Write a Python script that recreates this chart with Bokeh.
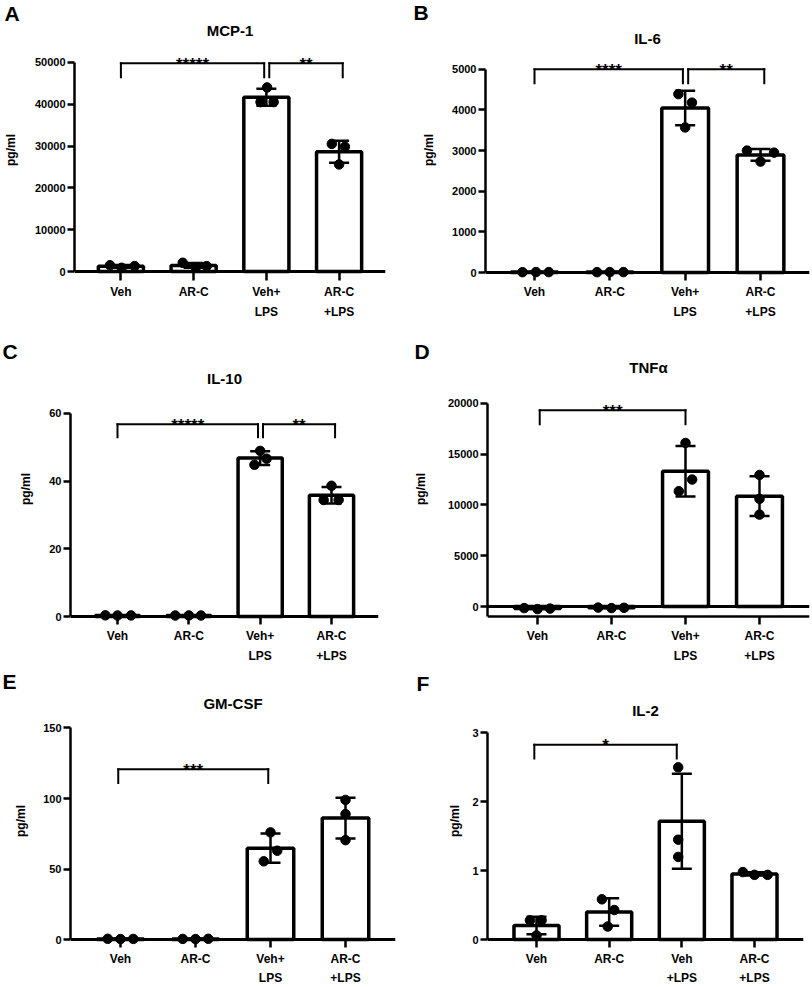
import numpy as np
from bokeh.plotting import figure
from bokeh.models import (ColumnDataSource, Range1d, FixedTicker,
                          Span, Label, Whisker, TeeHead, NumeralTickFormatter,
                          LinearAxis, Title)
from bokeh.layouts import column, row
from bokeh.embed import file_html
from bokeh.resources import INLINE
from bokeh.core.properties import value

FONT = "Liberation Sans"

# ---------------- data ----------------
groups = ["Veh", "AR-C", "Veh+LPS", "AR-C+LPS"]
# tick labels (two lines)
labels_1_line1 = ["Veh", "AR-C", "Veh+", "AR-C"]
labels_1_line2 = ["", "", "LPS", "+LPS"]
labels_2_line1 = ["Veh", "AR-C", "Veh", "AR-C"]
labels_2_line2 = ["", "", "+LPS", "+LPS"]

# three replicate values per group (pg/ml)
mcp1_vals = [[1500, 900, 1300], [2100, 1000, 1300], [44000, 40500, 40500], [30500, 29800, 25600]]
il6_vals = [[8, 12, 10], [9, 11, 10], [4390, 4180, 3570], [3000, 2950, 2730]]
il10_vals = [[0.35, 0.30, 0.32], [0.30, 0.32, 0.30], [48.9, 46.6, 44.8], [38.6, 34.4, 34.4]]
tnfa_vals = [[-150, -250, -200], [-100, -150, -120], [16100, 12500, 11350], [12950, 10600, 9050]]
gmcsf_vals = [[0.6, 0.4, 0.5], [0.5, 0.4, 0.6], [76, 63, 55.5], [99, 89, 70.5]]
il2_vals = [[0.28, 0.28, 0.06], [0.585, 0.43, 0.19], [2.5, 1.45, 1.2], [0.98, 0.94, 0.94]]

# y-axis ticks
mcp1_ticks = [0, 10000, 20000, 30000, 40000, 50000]
il6_ticks = [0, 1000, 2000, 3000, 4000, 5000]
il10_ticks = [0, 20, 40, 60]
tnfa_ticks = [0, 5000, 10000, 15000, 20000]
gmcsf_ticks = [0, 50, 100, 150]
il2_ticks = [0, 1, 2, 3]

# significance brackets: (from group, to group, label)
mcp1_sig = [(0, 2, "*****"), (2, 3, "**")]
il6_sig = [(0, 2, "****"), (2, 3, "**")]
il10_sig = [(0, 2, "*****"), (2, 3, "**")]
tnfa_sig = [(0, 2, "***")]
gmcsf_sig = [(0, 2, "***")]
il2_sig = [(0, 2, "*")]

# ---------------- layout / style (page pixels) ----------------
COL_W = 406
ROWS = [
    dict(off=0, H=321, ftop=19, fbot=281, s1=4, s2=3),
    dict(off=321, H=344, ftop=353, fbot=625, s1=4, s2=3),
    dict(off=665, H=322, ftop=692, fbot=949, s1=4, s2=2),
]
PANELS = {
    "A": dict(col=0, row=0, left=70, right=385, c0=117, top=62, zero=272,
              letter=(0, 24), title_c=30, brk=(63, 77), lab_c=10,
              brk_off=[(0, -0.03), (0.04, 0.05)],
              jit=[[-0.15, 0.01, 0.19], [-0.15, 0.03, 0.18], [0.01, -0.08, 0.10], [-0.10, 0.08, 0.0]]),
    "B": dict(col=1, row=0, left=485, right=809, c0=534, top=69, zero=273,
              letter=(413, 23), title_c=38, brk=(69, 83), lab_c=433,
              brk_off=[(0, -0.03), (0.04, 0.05)],
              jit=[[-0.16, 0.02, 0.19], [-0.17, 0.0, 0.18], [-0.09, 0.09, 0.0], [-0.18, 0.18, 0.0]]),
    "C": dict(col=0, row=1, left=70, right=378, c0=117, top=413, zero=617,
              letter=(2, 362), title_c=378, brk=(424, 437), lab_c=30,
              brk_off=[(0, -0.03), (0.04, 0.05)],
              jit=[[-0.17, 0.0, 0.19], [-0.19, 0.0, 0.17], [0.0, 0.09, -0.08], [0.0, -0.11, 0.10]]),
    "D": dict(col=1, row=1, left=487, right=809, c0=537, top=403, zero=607, axis=617,
              letter=(414, 362), title_c=367, brk=(410, 424), lab_c=424,
              brk_off=[(0.03, 0.0)],
              jit=[[-0.18, 0.0, 0.17], [-0.18, 0.0, 0.17], [0.0, 0.09, -0.09], [0.0, 0.0, 0.0]]),
    "E": dict(col=0, row=2, left=70, right=395, c0=120, top=726, zero=941,
              letter=(2, 690), title_c=702, brk=(768, 782), lab_c=25,
              brk_off=[(-0.03, -0.03)],
              jit=[[-0.17, 0.0, 0.17], [-0.17, 0.0, 0.17], [0.0, 0.09, -0.09], [0.0, 0.0, 0.0]]),
    "F": dict(col=1, row=2, left=487, right=803, c0=536, top=731, zero=941,
              letter=(416, 692), title_c=709, brk=(743, 757), lab_c=459,
              brk_off=[(-0.03, -0.07)],
              jit=[[-0.09, 0.07, 0.0], [-0.10, 0.07, -0.02], [-0.05, -0.05, -0.05], [-0.16, 0.0, 0.18]]),
}
TICK_FS = 11
XLAB_FS = 12


def style_text_axis(ax, size):
    ax.major_label_text_font = FONT
    ax.major_label_text_font_size = size
    ax.major_label_text_font_style = "bold"
    ax.major_label_text_color = "black"


def make_panel(letter, title, cats, line1, line2, vals, ticks, sig, P):
    R = ROWS[P["row"]]
    W, H = COL_W, R["H"]
    xo, yo = P["col"] * COL_W, R["off"]
    left, right, c0 = P["left"] - xo, P["right"] - xo, P["c0"] - xo
    ftop, fbot = R["ftop"] - yo, R["fbot"] - yo
    top, zero = P["top"] - yo, P["zero"] - yo
    n = len(cats)
    step = (right - left - 2 * (c0 - left)) / 3.0
    pad = (c0 - left) / step - 0.5
    ymax = ticks[-1]
    dpp = ymax / (zero - top)
    y0 = -(fbot - zero) * dpp
    y1 = ymax + (top - ftop) * dpp
    has_axis = "axis" in P
    axis_val = -(P["axis"] - yo - zero) * dpp if has_axis else 0.0
    centers = [i + 0.5 for i in range(n)]

    p = figure(width=W, height=H, title=None, x_axis_location=None,
               x_range=Range1d(-pad, n + pad),
               y_range=Range1d(y0, y1), output_backend="svg", toolbar_location=None,
               min_border_left=left, min_border_right=W - right,
               min_border_top=ftop, min_border_bottom=H - fbot)
    p.outline_line_color = None
    p.xgrid.visible = False
    p.ygrid.visible = False
    p.background_fill_color = "white"
    p.border_fill_color = "white"

    # zero line (and lower x axis line for panels with a negative range)
    p.add_layout(Span(location=0, dimension="width", line_color="black",
                      line_width=3, level="underlay"))
    if has_axis:
        p.add_layout(Span(location=axis_val, dimension="width", line_color="black",
                          line_width=2.5, level="underlay"))

    means = [float(np.mean(v)) for v in vals]
    sds = [float(np.std(v, ddof=1)) for v in vals]
    src = ColumnDataSource(dict(x=centers, group=cats, top=means,
                                upper=[m + s for m, s in zip(means, sds)],
                                lower=[m - s for m, s in zip(means, sds)]))
    p.vbar(x="x", top="top", bottom=0, width=0.62, source=src,
           fill_color="white", line_color="black", line_width=3.5)

    px, py = [], []
    for c, vs, js in zip(centers, vals, P["jit"]):
        for v, j in zip(vs, js):
            px.append(c + j)
            py.append(v)
    p.scatter(x=px, y=py, size=9.5, color="black")

    w = Whisker(base="x", upper="upper", lower="lower", source=src, level="annotation",
                line_color="black", line_width=2.5)
    w.upper_head = TeeHead(size=20, line_color="black", line_width=2.5)
    w.lower_head = TeeHead(size=20, line_color="black", line_width=2.5)
    p.add_layout(w)

    # significance brackets
    btop = (zero - (P["brk"][0] - yo)) * dpp
    bleg = (zero - (P["brk"][1] - yo)) * dpp
    x0s, y0s, x1s, y1s = [], [], [], []
    tx, ty, tt = [], [], []
    for (i, j, txt), (oi, oj) in zip(sig, P["brk_off"]):
        a = centers[i] + oi
        b = centers[j] + oj
        x0s += [a, a, b]
        y0s += [bleg, btop, btop]
        x1s += [a, b, b]
        y1s += [btop, btop, bleg]
        tx.append((a + b) / 2.0)
        ty.append(btop)
        tt.append(txt)
    p.segment(x0=x0s, y0=y0s, x1=x1s, y1=y1s, line_color="black", line_width=2,
              line_cap="square")
    p.text(x=tx, y=ty, text=tt, text_font=value(FONT), text_font_size="17px",
           text_font_style="bold", text_align="center", text_baseline="alphabetic",
           y_offset=1, text_color="black")

    # chart title (inside the frame, above the axis top)
    p.add_layout(Label(x=n / 2.0, y=ymax, y_offset=P["top"] - P["title_c"], text=title,
                       text_align="center", text_baseline="middle",
                       text_font=FONT, text_font_size="15px", text_font_style="bold",
                       text_color="black"))
    # panel letter (above panel)
    letter_bottom = P["letter"][1] - yo
    p.add_layout(Title(text=letter, align="left", offset=P["letter"][0] - P["left"],
                       standoff=2 * (ftop - letter_bottom),
                       text_font=FONT, text_font_size="21px", text_font_style="bold",
                       text_color="black"), "above")

    # y axis
    yax = p.yaxis[0]
    yax.ticker = FixedTicker(ticks=ticks)
    yax.bounds = (axis_val, ymax)
    yax.formatter = NumeralTickFormatter(format="0")
    yax.axis_line_width = 2.5
    yax.axis_line_color = "black"
    yax.major_tick_line_width = 2.5
    yax.major_tick_line_color = "black"
    yax.major_tick_out = 7
    yax.major_tick_in = 0
    yax.minor_tick_line_color = None
    style_text_axis(yax, "%dpx" % TICK_FS)
    yax.major_label_standoff = 2
    yax.axis_label = "pg/ml"
    yax.axis_label_text_font = FONT
    yax.axis_label_text_font_size = "12px"
    yax.axis_label_text_font_style = "bold"
    yax.axis_label_text_color = "black"
    tlw = len(str(ymax)) * 0.556 * TICK_FS
    yax.axis_label_standoff = int(round(P["left"] - 7 - 2 - tlw - 6 - P["lab_c"]))

    # x axis: tick marks + first label line
    ax1 = LinearAxis(ticker=FixedTicker(ticks=centers, minor_ticks=[]),
                     major_label_overrides={c: t for c, t in zip(centers, line1)})
    ax1.axis_line_color = None
    ax1.major_tick_in = fbot - (P["axis"] - yo if has_axis else zero)
    ax1.major_tick_out = 0
    ax1.major_tick_line_width = 2.5
    ax1.major_tick_line_color = "black"
    ax1.minor_tick_line_color = None
    ax1.major_label_standoff = R["s1"]
    style_text_axis(ax1, "%dpx" % XLAB_FS)
    p.add_layout(ax1, "below")

    # second label line
    c2 = [c for c, t in zip(centers, line2) if t]
    ax2 = LinearAxis(ticker=FixedTicker(ticks=c2, minor_ticks=[]),
                     major_label_overrides={c: t for c, t in zip(centers, line2) if t})
    ax2.axis_line_color = None
    ax2.major_tick_line_color = None
    ax2.minor_tick_line_color = None
    ax2.major_tick_in = 0
    ax2.major_tick_out = 0
    ax2.major_label_standoff = R["s2"]
    style_text_axis(ax2, "%dpx" % XLAB_FS)
    p.add_layout(ax2, "below")
    return p


pA = make_panel("A", "MCP-1", groups, labels_1_line1, labels_1_line2, mcp1_vals, mcp1_ticks, mcp1_sig, PANELS["A"])
pB = make_panel("B", "IL-6", groups, labels_1_line1, labels_1_line2, il6_vals, il6_ticks, il6_sig, PANELS["B"])
pC = make_panel("C", "IL-10", groups, labels_1_line1, labels_1_line2, il10_vals, il10_ticks, il10_sig, PANELS["C"])
pD = make_panel("D", "TNFα", groups, labels_1_line1, labels_1_line2, tnfa_vals, tnfa_ticks, tnfa_sig, PANELS["D"])
pE = make_panel("E", "GM-CSF", groups, labels_1_line1, labels_1_line2, gmcsf_vals, gmcsf_ticks, gmcsf_sig, PANELS["E"])
pF = make_panel("F", "IL-2", groups, labels_2_line1, labels_2_line2, il2_vals, il2_ticks, il2_sig, PANELS["F"])

layout = column(row(pA, pB), row(pC, pD), row(pE, pF))
open("out.html", "w").write(file_html(layout, INLINE))
